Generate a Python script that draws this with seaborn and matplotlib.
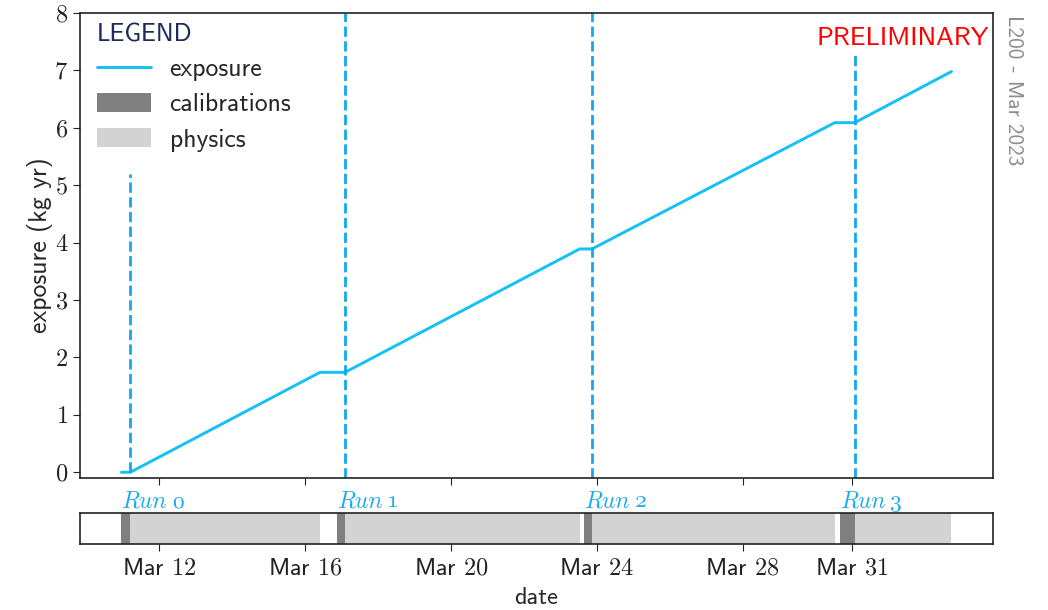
import matplotlib
matplotlib.use("Agg")
import matplotlib.pyplot as plt
import matplotlib.dates as mdates
from matplotlib.lines import Line2D
from matplotlib.patches import Patch
from matplotlib.ticker import FuncFormatter, FixedLocator
import numpy as np
import pandas as pd
import seaborn as sns

# --- data -------------------------------------------------------------
run_names = ["0", "1", "2", "3"]
calib_start = ["2023-03-10 23:00", "2023-03-16 20:50", "2023-03-23 15:50", "2023-03-30 16:00"]
calib_end = ["2023-03-11 04:50", "2023-03-17 02:10", "2023-03-23 20:50", "2023-03-31 01:50"]
phys_start = ["2023-03-11 04:50", "2023-03-17 02:10", "2023-03-23 20:50", "2023-03-31 01:50"]
phys_end = ["2023-03-16 09:40", "2023-03-23 12:40", "2023-03-30 12:40", "2023-04-02 17:30"]

exposure_time = ["2023-03-10 23:00", "2023-03-11 04:50", "2023-03-16 09:40",
                 "2023-03-17 02:10", "2023-03-23 12:40", "2023-03-23 20:50",
                 "2023-03-30 12:40", "2023-03-31 01:50", "2023-04-02 17:30"]
exposure_kgyr = [0.0, 0.0, 1.74, 1.74, 3.89, 3.89, 6.09, 6.09, 6.98]

# extent of the run-start markers (kg yr)
run_line_low = [0.0, -0.1, -0.1, -0.1]
run_line_high = [5.2, 8.0, 8.0, 7.3]

tick_dates = ["2023-03-12", "2023-03-16", "2023-03-20", "2023-03-24", "2023-03-28", "2023-03-31"]
tick_labels = ["Mar 12", "Mar 16", "Mar 20", "Mar 24", "Mar 28", "Mar 31"]

# --- style ------------------------------------------------------------
sns.set_style("ticks")
plt.rcParams.update({
    "font.family": ["cmss10", "DejaVu Sans"],
    "mathtext.fontset": "cm",
    "axes.unicode_minus": False,
    "font.size": 17,
    "axes.edgecolor": "#222222",
    "axes.linewidth": 1.2,
    "xtick.color": "#222222",
    "ytick.color": "#222222",
    "xtick.major.size": 5,
    "ytick.major.size": 5,
})

LINE_BLUE = "#14c0f7"
DASH_BLUE = "#12a7f2"
TEXT_BLUE = "#1aaaf0"
CAL_GREY = "#808080"
PHYS_GREY = "#d3d3d3"

df = pd.DataFrame({"time": pd.to_datetime(exposure_time), "exposure": exposure_kgyr})

fig = plt.figure(figsize=(10.48, 6.10), dpi=100)
ax = fig.add_axes([0.0763, 0.2164, 0.8712, 0.7623])
ax_run = fig.add_axes([0.0763, 0.1082, 0.8712, 0.0508], sharex=ax)

# exposure curve
sns.lineplot(data=df, x="time", y="exposure", ax=ax, color=LINE_BLUE, lw=2.1,
             estimator=None, sort=True)

# run start markers
starts = pd.to_datetime(phys_start)
for t, lo, hi in zip(starts, run_line_low, run_line_high):
    ax.vlines(t, lo, hi, colors=DASH_BLUE, linestyles="--", lw=2.0)

ax.set_ylim(-0.1, 8)
ax.yaxis.set_major_locator(FixedLocator(np.arange(0, 9)))
ax.yaxis.set_major_formatter(FuncFormatter(lambda v, p: r"$\mathrm{%d}$" % v))
ax.tick_params(axis="y", labelsize=17.5)
ax.set_ylabel("exposure (kg yr)", fontsize=18.5, labelpad=1)
ax.set_xlabel("")
ax.tick_params(axis="x", labelbottom=False)
for s in ax.spines.values():
    s.set_visible(True)

# run overview strip
for a, b in zip(pd.to_datetime(phys_start), pd.to_datetime(phys_end)):
    ax_run.axvspan(a, b, color=PHYS_GREY, lw=0)
for a, b in zip(pd.to_datetime(calib_start), pd.to_datetime(calib_end)):
    ax_run.axvspan(a, b, color=CAL_GREY, lw=0)
ax_run.set_yticks([])
ax_run.set_ylim(0, 1)
for s in ax_run.spines.values():
    s.set_visible(True)

tick_pos = mdates.date2num(pd.to_datetime(tick_dates).to_pydatetime())
ax_run.xaxis.set_major_locator(FixedLocator(tick_pos))
ax_run.set_xticklabels([lab.split()[0] + r" $\mathrm{" + lab.split()[1] + "}$" for lab in tick_labels],
                       fontsize=17.5)
ax_run.tick_params(axis="x", pad=5)
ax_run.set_xlabel("date", fontsize=17.5, labelpad=5)

# run labels: italic word followed by an old-style numeral
for name, t in zip(run_names, pd.to_datetime(calib_start)):
    x = mdates.date2num(t.to_pydatetime())
    word = ax_run.text(x, 1.03, "Run", transform=ax_run.get_xaxis_transform(),
                       ha="left", va="bottom", color=TEXT_BLUE, fontsize=17,
                       family="cmmi10")
    ax_run.annotate(name, xy=(1, 0), xycoords=word, xytext=(3.5, 0),
                    textcoords="offset points", ha="left", va="bottom",
                    color=TEXT_BLUE, fontsize=17, family="cmmi10")

# legend
handles = [Line2D([], [], color=LINE_BLUE, lw=2.1),
           Patch(facecolor=CAL_GREY, edgecolor="none"),
           Patch(facecolor=PHYS_GREY, edgecolor="none")]
leg = ax.legend(handles, ["exposure", "calibrations", "physics"], loc="upper left",
                bbox_to_anchor=(0.0055, 1.003),
                frameon=False, fontsize=18.5, title="LEGEND", handlelength=2.1,
                handleheight=0.78, handletextpad=0.74, labelspacing=0.45,
                borderaxespad=0.05, alignment="left")
leg.get_title().set_color("#1c2b5a")
leg.get_title().set_fontsize(18)

ax.text(0.995, 0.97, "PRELIMINARY", transform=ax.transAxes, ha="right", va="top",
        color="red", fontsize=19)
fig.text(0.967, 0.975, "L200 - Mar 2023", rotation=270, ha="center", va="top",
         color="#8c8c8c", fontsize=15.3)

fig.savefig("out.png", dpi=100)
